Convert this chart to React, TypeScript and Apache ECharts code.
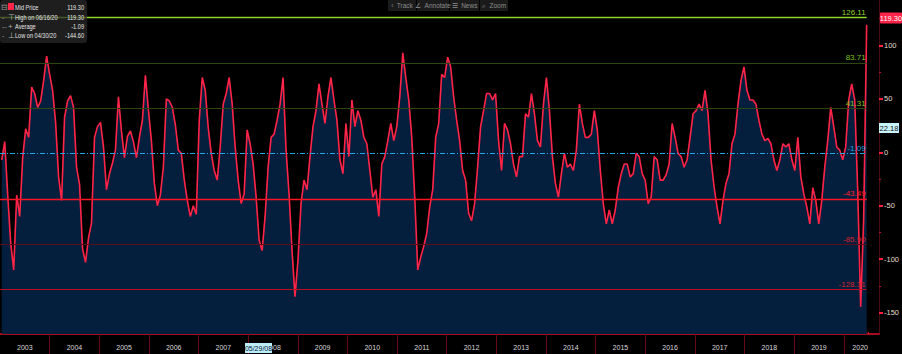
import React, { useEffect, useRef } from "react";
import * as echarts from "echarts";

// Sampling of the series: first sample date (fractional year) and spacing (~22 days)
const START_YEAR = 2003.035;
const STEP_YEARS = 0.0603;

const values2003to2007 = [
  -7, 10, -40, -85, -110, -40, -60, -5, 22, 14,
  61, 55, 42, 48, 67, 90, 73, 58, 28, -23,
  -45, 33, 48, 53, 42, -14, -30, -90, -103, -80,
  -66, 14, 24, 28, 5, -35, -20, -10, 2, 52,
  20, -5, 15, 20, 10, -5, 14, 30, 72, 40,
  11, -29, -50, -40, -14, 50, 48, 42, 26, 2,
  -1, -26, -45, -60, -50, -58, 30, 70, 58, 23,
  -1, -17, -26, 5, 45,
];
const values2007to2011 = [
  55, 70, 45, 5, -26, -48, -39, 21, 8, -11,
  -42, -82, -92, -60, -14, 14, 17, 30, 45, 70,
  2, -39, -92, -135, -100, -48, -26, -35, -4, 24,
  39, 64, 45, 27, 52, 70, 49, 30, -7, -20,
  27, -4, 49, 24, 39, 30, 14, 8, -17, -42,
  -35, -60, -11, -4, 11, 27, 11, 24, 52, 93,
  70, 49, 14, -42, -110, -98, -88, -76, -51, -35,
  14, 27, 73, 70,
];
const values2011to2016 = [
  89, 80, 52, 30, 11, -17, -26, -57, -64, -48,
  -14, 24, 39, 55, 55, 49, 55, 11, -17, 27,
  21, 8, -11, -23, -4, -4, 36, 33, 55, 36,
  11, 5, 45, 70, 39, -4, -29, -42, -20, -1,
  -14, -11, -17, 2, 45, 27, 14, 14, 17, 39,
  21, -17, -48, -67, -54, -67, -54, -33, -20, -11,
  -11, -23, -20, -1, -4, -20, -26, -48, -42, -4,
  -7, -26, -26,
];
const values2016to2020 = [
  -21, -11, 27, 14, -1, -4, -14, -7, 14, 36,
  39, 45, 39, 58, 36, -7, -32, -51, -67, -45,
  -29, -20, 8, 17, 45, 67, 80, 58, 49, 49,
  45, 30, 17, 11, 13, 8, -7, -17, -7, 8,
  5, 8, -7, -17, 14, -23, -39, -51, -67, -33,
  -45, -67, -45, -14, 11, 42, 24, 5, 2, -7,
  5, 49, 64, 49, -35, -144.6, -62, 119.3,
];
const midPrice = [...values2003to2007, ...values2007to2011, ...values2011to2016, ...values2016to2020];

const yearTickLabels = [
  "2003", "2004", "2005", "2006", "2007", "2008", "2009", "2010", "2011",
  "2012", "2013", "2014", "2015", "2016", "2017", "2018", "2019", "2020",
];
const rightTickValues = [-150, -100, -50, 0, 50, 100];
const rightMinorTickValues = [-125, -75, -25, 25, 75, 125];

const bandValues = [126.11, 83.71, 41.31, -1.09, -43.49, -85.9, -128.31];
const bandLabels = ["126.11", "83.71", "41.31", "-1.09", "-43.49", "-85.90", "-128.31"];
const bandLineColors = ["#8fd42a", "#2c4712", "#2c4712", "#1ea6e6", "#ff1426", "#5c0e18", "#b8101f"];
const bandTextColors = ["#8fd42a", "#80c020", "#80c020", "#1ea6e6", "#ff2030", "#d8202e", "#d8202e"];
const bandWidths = [1.3, 1, 1, 1.2, 1.4, 1, 1];

const legendLabels = ["Mid Price", "High on 06/16/20", "Average", "Low on 04/30/20"];
const legendValues = ["119.30", "119.30", "-1.09", "-144.60"];
const legendIcons = ["", "\u22A4", "+", "\u22A5"];

const toolbarItems = ["\u2039  Track", "\u2220  Annotate", "\u2630  News", "\u2315  Zoom"];

const lastPriceLabel = "119.30";
const otherPriceLabel = "22.18";
const cursorDateLabel = "05/29/08";

const FONT = "'Liberation Sans', Arial, sans-serif";

export default function App() {
  const ref = useRef<HTMLDivElement>(null);

  useEffect(() => {
    if (!ref.current) return;
    document.body.style.margin = "0";
    const chart = echarts.init(ref.current, null, { renderer: "svg" });

    const data = midPrice.map((v, i) => [START_YEAR + i * STEP_YEARS, v]);
    const lastX = START_YEAR + (midPrice.length - 1) * STEP_YEARS;
    const years = yearTickLabels.map((s) => Number(s));
    const yearBoundaries = years.slice(1);
    const labelPositions = years.map((y) => (y === 2020 ? 2020.33 : y + 0.5));
    const quarterTicks: number[] = [];
    years.forEach((y) => [0.25, 0.5, 0.75].forEach((q) => quarterTicks.push(y + q)));

    const markData = bandValues.map((v, i) => [
      {
        coord: [2003, v],
        lineStyle: {
          color: bandLineColors[i],
          width: bandWidths[i],
          type: i === 3 ? [5, 2, 1, 2] : "solid",
        },
        label: {
          show: true,
          position: "insideEndTop",
          formatter: bandLabels[i],
          color: bandTextColors[i],
          fontSize: 8,
          fontFamily: FONT,
          distance: 1,
        },
      },
      { coord: [lastX, v] },
    ]);

    const g: any[] = [];
    // legend box
    g.push({ type: "rect", z: 100, shape: { x: 0, y: 0, width: 87, height: 43, r: 3 }, style: { fill: "rgba(42,42,42,0.72)" } });
    const rowY = [7, 17, 26, 35];
    g.push({ type: "text", z: 101, x: 1, y: rowY[0], style: { text: "\u229F", fill: "#9a9a9a", font: `8px ${FONT}`, verticalAlign: "middle" } });
    g.push({ type: "rect", z: 101, shape: { x: 8, y: 3, width: 6, height: 7 }, style: { fill: "#ff2448" } });
    legendLabels.forEach((lab, i) => {
      if (i > 0) {
        g.push({ type: "text", z: 101, x: 2, y: rowY[i], style: { text: i === 2 ? "--" : "-", fill: "#9a9a9a", font: `7px ${FONT}`, verticalAlign: "middle" } });
        g.push({ type: "text", z: 101, x: 8, y: rowY[i], style: { text: legendIcons[i], fill: "#b0b0b0", font: `8px ${FONT}`, verticalAlign: "middle" } });
      }
      g.push({ type: "text", z: 101, x: 15, y: rowY[i], scaleX: 0.8, style: { text: lab, fill: "#e6e6e6", font: `7px ${FONT}`, verticalAlign: "middle" } });
      g.push({ type: "text", z: 101, x: 84, y: rowY[i], scaleX: 0.8, style: { text: legendValues[i], fill: "#e6e6e6", font: `7px ${FONT}`, verticalAlign: "middle", align: "right" } });
    });
    // toolbar
    const tbX = [388, 417, 450, 480];
    const tbW = [28, 32, 29, 28];
    toolbarItems.forEach((t, i) => {
      g.push({ type: "rect", z: 100, shape: { x: tbX[i], y: 0, width: tbW[i], height: 11 }, style: { fill: "#1b1b1b" } });
      g.push({ type: "text", z: 101, x: tbX[i] + tbW[i] / 2, y: 5.5, style: { text: t, fill: "#8c8c8c", font: `6.5px ${FONT}`, align: "center", verticalAlign: "middle" } });
    });
    // right-axis value boxes
    g.push({ type: "rect", z: 100, shape: { x: 880, y: 12.5, width: 22, height: 11, r: 1 }, style: { fill: "#ff2448" } });
    g.push({ type: "text", z: 101, x: 891, y: 18, style: { text: lastPriceLabel, fill: "#ffffff", font: `7.5px ${FONT}`, align: "center", verticalAlign: "middle" } });
    g.push({ type: "rect", z: 100, shape: { x: 879, y: 123, width: 20, height: 10 }, style: { fill: "#c8f4ff" } });
    g.push({ type: "text", z: 101, x: 889, y: 128, style: { text: otherPriceLabel, fill: "#101010", font: `7.5px ${FONT}`, align: "center", verticalAlign: "middle" } });
    // cursor date box
    g.push({ type: "rect", z: 100, shape: { x: 245, y: 343, width: 27, height: 10 }, style: { fill: "#bdeeff" } });
    g.push({ type: "text", z: 101, x: 258.5, y: 348, style: { text: cursorDateLabel, fill: "#0a1a30", font: `7px ${FONT}`, align: "center", verticalAlign: "middle" } });

    chart.setOption({
      animation: false,
      backgroundColor: "#000000",
      textStyle: { fontFamily: FONT },
      grid: { left: -2, right: 23, top: 0, bottom: 20, containLabel: false },
      xAxis: [
        {
          type: "value",
          min: 2003,
          max: 2020.71,
          axisLine: { show: true, onZero: false, lineStyle: { color: "#e0102c", width: 1.5 } },
          axisTick: { show: true, customValues: yearBoundaries, length: 20, lineStyle: { color: "#6a0a18", width: 1 } },
          axisLabel: {
            show: true,
            customValues: labelPositions,
            formatter: (v: number) => yearTickLabels[Math.floor(v + 1e-6) - 2003] ?? "",
            color: "#d8d8d8",
            fontSize: 7,
            margin: 10,
          },
          splitLine: { show: false },
        },
        {
          type: "value",
          min: 2003,
          max: 2020.71,
          position: "bottom",
          axisLine: { show: false, onZero: false },
          axisTick: { show: true, inside: true, customValues: quarterTicks, length: 2, lineStyle: { color: "#e0102c", width: 1 } },
          axisLabel: { show: false },
          splitLine: { show: false },
        },
      ],
      yAxis: [
        {
          type: "value",
          position: "right",
          min: -170,
          max: 142.5,
          axisLine: { show: true, onZero: false, lineStyle: { color: "#4a0a12", width: 1 } },
          axisTick: { show: true, customValues: rightTickValues, length: 4, lineStyle: { color: "#ff2040", width: 2 } },
          axisLabel: { show: true, customValues: rightTickValues, color: "#e4dccc", fontSize: 7.5, margin: 5 },
          splitLine: { show: false },
        },
        {
          type: "value",
          position: "right",
          min: -170,
          max: 142.5,
          axisLine: { show: false, onZero: false },
          axisTick: { show: true, customValues: rightMinorTickValues, length: 2, lineStyle: { color: "#c01030", width: 1 } },
          axisLabel: { show: false },
          splitLine: { show: false },
        },
      ],
      series: [
        {
          type: "line",
          name: "Mid Price",
          data,
          xAxisIndex: 0,
          yAxisIndex: 0,
          symbol: "none",
          showSymbol: false,
          lineStyle: { color: "#ff2448", width: 1.6 },
          areaStyle: { color: "#041f3d", opacity: 1, origin: "start" },
          markLine: { silent: true, symbol: "none", animation: false, data: markData },
          z: 3,
        },
      ],
      graphic: g,
    });

    return () => chart.dispose();
  }, []);

  return (
    <div
      ref={ref}
      style={{ position: "fixed", left: 0, top: 0, width: 902, height: 354, background: "#000" }}
    />
  );
}
